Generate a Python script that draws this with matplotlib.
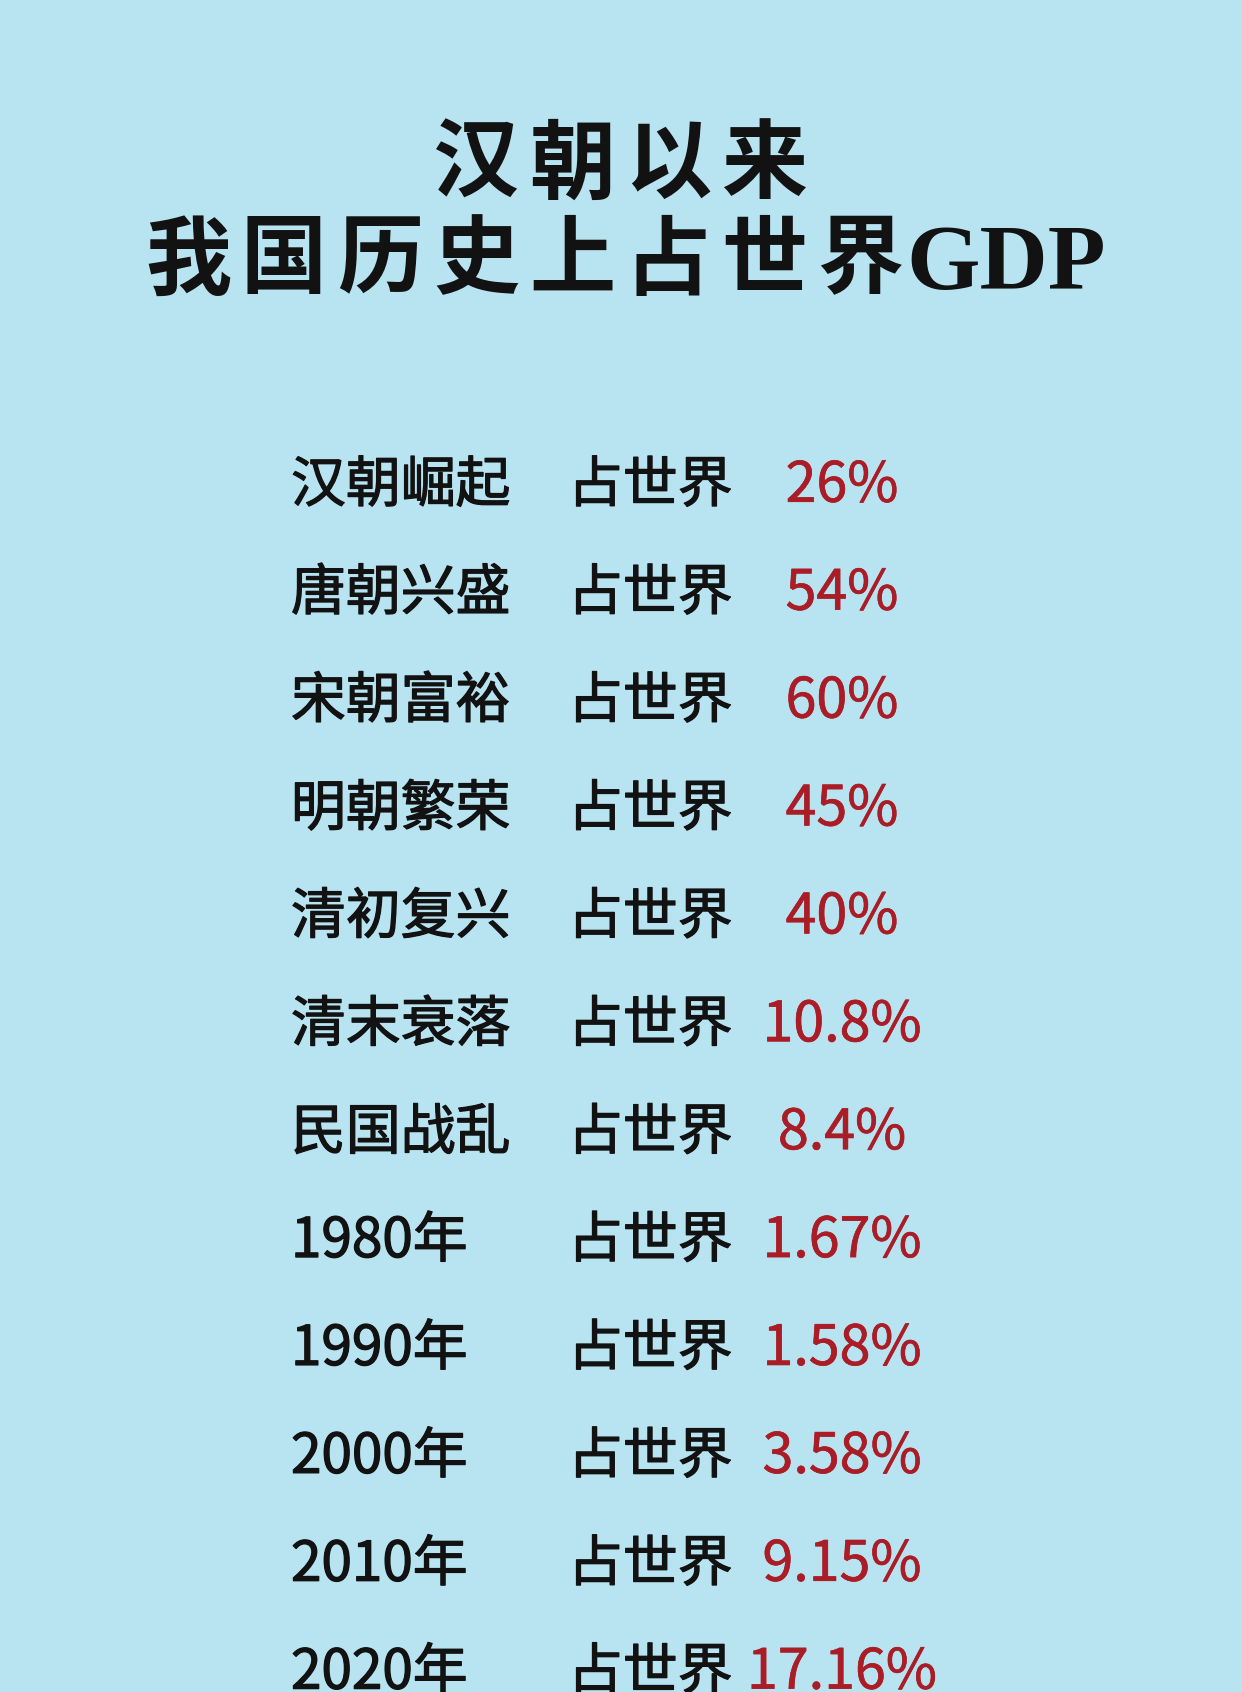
import matplotlib
matplotlib.use('Agg')
import matplotlib.pyplot as plt
import matplotlib.patheffects as pe

# ---- data ----
title_1 = '汉朝以来'
title_2 = '我国历史上占世界'
title_2_tail = 'GDP'
periods = ['汉朝崛起', '唐朝兴盛', '宋朝富裕', '明朝繁荣', '清初复兴', '清末衰落', '民国战乱',
           '1980年', '1990年', '2000年', '2010年', '2020年']
share_word = '占世界'
shares = ['26%', '54%', '60%', '45%', '40%', '10.8%', '8.4%',
          '1.67%', '1.58%', '3.58%', '9.15%', '17.16%']

bg = '#b8e4f2'
red = '#ab1d26'
ink = '#121212'
cjk = ['Noto Sans CJK SC', 'DejaVu Sans']
title_fam = ['Liberation Serif', 'Noto Sans CJK SC']

W, H = 1242, 1692
fig = plt.figure(figsize=(W / 100, H / 100), dpi=100, facecolor=bg)
ax = fig.add_axes([0, 0, 1, 1])
ax.set_xlim(0, W)
ax.set_ylim(H, 0)
ax.axis('off')
ax.set_facecolor(bg)

# title, spread out like the poster
pitch = 96
for i, ch in enumerate(title_1):
    ax.text(476 + pitch * i, 170, ch, ha='center', va='center', fontsize=62,
            fontweight='heavy', family=title_fam, color=ink)
for i, ch in enumerate(title_2):
    ax.text(188 + pitch * i, 266, ch, ha='center', va='center', fontsize=62,
            fontweight='heavy', family=title_fam, color=ink)
ax.text(906, 266, title_2_tail, ha='left', va='center', fontsize=68,
        fontweight='bold', family=title_fam, color=ink)

# rows (regular face thickened a little, poster uses a medium weight)
thick_black = [pe.withStroke(linewidth=0.9, foreground=ink)]
thick_red = [pe.withStroke(linewidth=0.5, foreground=red)]
y0, step = 486, 107.9
for i in range(len(periods)):
    y = y0 + step * i
    ax.text(291, y, periods[i], ha='left', va='center', fontsize=39.5,
            family=cjk, color=ink, path_effects=thick_black)
    ax.text(568, y, share_word, ha='left', va='center', fontsize=39.5,
            family=cjk, color=ink, path_effects=thick_black)
    ax.text(842, y, shares[i], ha='center', va='center', fontsize=40,
            family=cjk, color=red, path_effects=thick_red)

fig.savefig('out.png', dpi=100, facecolor=bg)
